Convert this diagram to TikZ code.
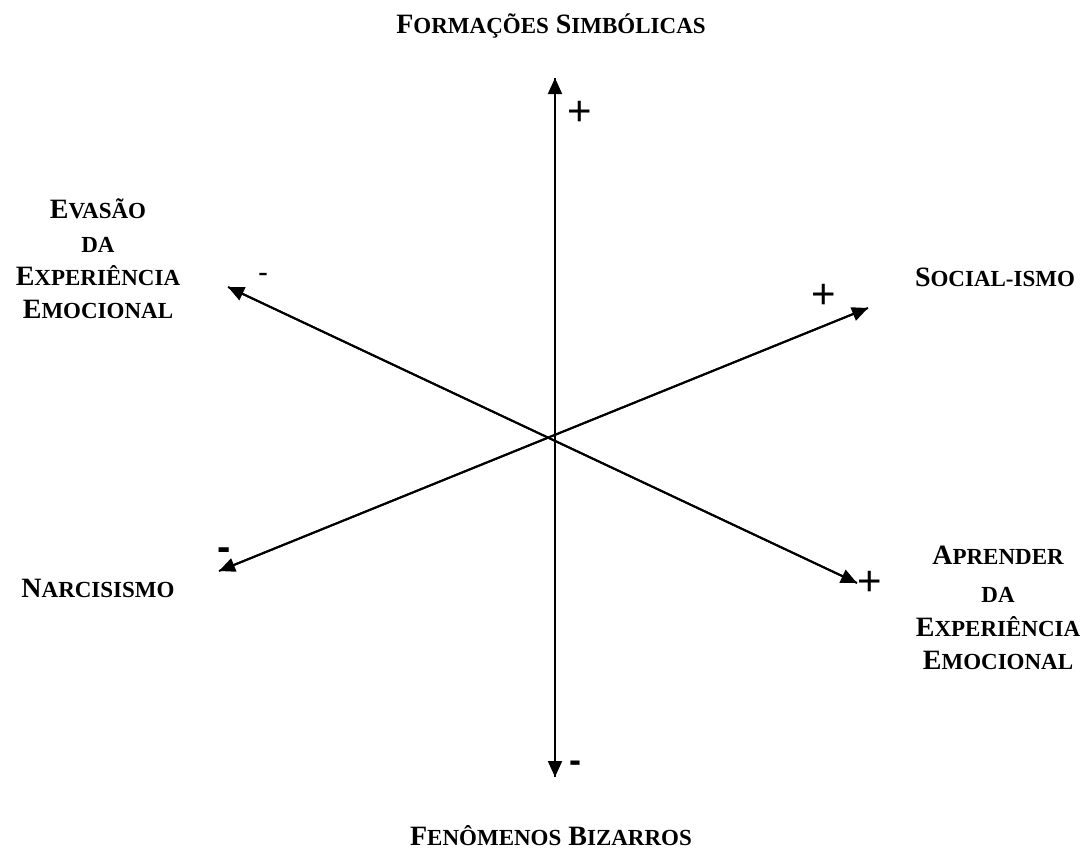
\documentclass[tikz,border=0pt]{standalone}
\usepackage{fontspec}
\setmainfont{Liberation Serif}
\newfontfamily\signfont{Liberation Sans}
\usetikzlibrary{arrows.meta}
\newcommand\capsc[2]{{\fontsize{28}{28}\selectfont #1}{\fontsize{23}{23}\selectfont #2}}
\newcommand\capspace{{\fontsize{28}{28}\selectfont\ }}
\tikzset{
  axisline/.style={line width=2pt,-{Triangle[length=16pt,width=14pt]}},
  lbl/.style={font=\bfseries,anchor=base,inner sep=0pt},
  sgn/.style={anchor=base,inner sep=0pt},
}
\begin{document}
\begin{tikzpicture}[x=1pt,y=-1pt]
\useasboundingbox (0,0) rectangle (1086,862);
% axis ends
\coordinate (vt) at (555,78);
\coordinate (vb) at (555,777);
\coordinate (ul) at (228,287);
\coordinate (lr) at (857,583);
\coordinate (ll) at (219,571);
\coordinate (ur) at (868,308);
\draw[axisline] (vb) -- (vt);
\draw[axisline] (vt) -- (vb);
\draw[axisline] (lr) -- (ul);
\draw[axisline] (ul) -- (lr);
\draw[axisline] (ur) -- (ll);
\draw[axisline] (ll) -- (ur);
% labels
\node[lbl] (fs) at (551,33) {\capsc{F}{ORMAÇÕES}\capspace\capsc{S}{IMBÓLICAS}};
\node[lbl] (fb) at (551,845) {\capsc{F}{ENÔMENOS}\capspace\capsc{B}{IZARROS}};
\node[lbl] (so) at (995,286) {\capsc{S}{OCIAL-ISMO}};
\node[lbl] (na) at (98,597) {\capsc{N}{ARCISISMO}};
\node[lbl] (ev1) at (98,218) {\capsc{E}{VASÃO}};
\node[lbl] (ev2) at (98,252) {\capsc{}{DA}};
\node[lbl] (ev3) at (98,285) {\capsc{E}{XPERIÊNCIA}};
\node[lbl] (ev4) at (98,318) {\capsc{E}{MOCIONAL}};
\node[lbl] (ap1) at (998,564) {\capsc{A}{PRENDER}};
\node[lbl] (ap2) at (998,602) {\capsc{}{DA}};
\node[lbl] (ap3) at (998,636) {\capsc{E}{XPERIÊNCIA}};
\node[lbl] (ap4) at (998,669) {\capsc{E}{MOCIONAL}};
% signs
\node[sgn,font=\signfont\fontsize{42}{42}\selectfont] (p1) at (580,125) {+};
\node[sgn,font=\signfont\fontsize{42}{42}\selectfont] (p2) at (824,308) {+};
\node[sgn,font=\signfont\fontsize{42}{42}\selectfont] (p3) at (870,595) {+};
\node[sgn,font=\signfont\fontsize{30}{30}\selectfont] (m1) at (263,282) {-};
\node[sgn,font=\signfont\bfseries\fontsize{40}{40}\selectfont] (m2) at (224,560) {-};
\node[sgn,font=\signfont\bfseries\fontsize{36}{36}\selectfont] (m3) at (575,772) {-};
\end{tikzpicture}
\end{document}
